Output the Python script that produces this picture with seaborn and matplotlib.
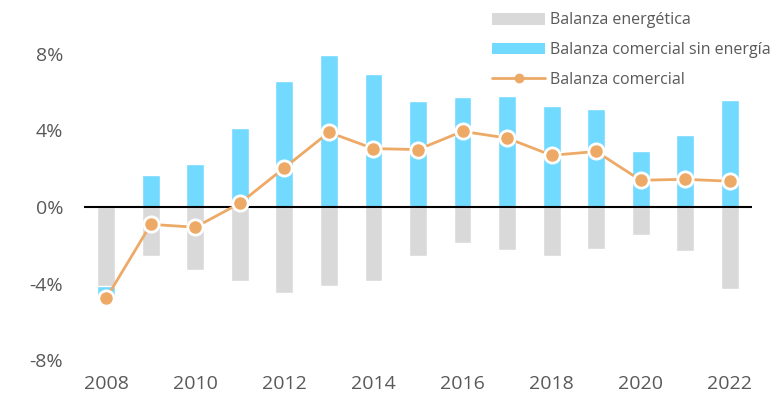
import numpy as np
import pandas as pd
import matplotlib
matplotlib.use("Agg")
import matplotlib.pyplot as plt
import seaborn as sns
from matplotlib.patches import Patch
from matplotlib.lines import Line2D

# datos (% del PIB)
years = list(range(2008, 2023))
energetica = [-4.1, -2.55, -3.3, -3.85, -4.5, -4.1, -3.85, -2.55, -1.85, -2.25, -2.55, -2.2, -1.45, -2.3, -4.25]
sin_energia = [-0.55, 1.67, 2.25, 4.1, 6.55, 7.95, 6.95, 5.55, 5.75, 5.8, 5.25, 5.1, 2.9, 3.75, 5.6]
comercial = [-4.75, -0.9, -1.05, 0.2, 2.05, 3.9, 3.05, 3.0, 3.95, 3.6, 2.7, 2.9, 1.4, 1.45, 1.35]

c_gris = "#D9D9D9"
c_azul = "#72D9FF"
c_naranja = "#EDA966"
c_texto = "#595959"

sns.set_style("white")
plt.rcParams["font.family"] = ["Open Sans", "DejaVu Sans"]

df = pd.DataFrame({"year": years, "energetica": energetica,
                   "sin_energia": sin_energia, "comercial": comercial})
# barra azul apilada bajo la gris cuando es negativa
df["azul_ext"] = np.where(df["sin_energia"] < 0,
                          df["sin_energia"] + df["energetica"], df["sin_energia"])

fig = plt.figure(figsize=(7.82, 4.01), dpi=100)
ax = fig.add_axes([84 / 782, 29 / 401, 668 / 782, 372 / 401])

sns.barplot(data=df, x="year", y="azul_ext", color=c_azul, width=0.4,
            saturation=1, ax=ax)
sns.barplot(data=df, x="year", y="energetica", color=c_gris, width=0.4,
            saturation=1, ax=ax)
ax.axhline(0, color="black", linewidth=1.5, zorder=3)
sns.pointplot(data=df, x="year", y="comercial", color=c_naranja,
              linewidth=2, markersize=11, markeredgecolor="white",
              markeredgewidth=2, ax=ax, zorder=5)

ax.set_xlim(-0.5, 14.5)
ax.set_ylim(-8.6, 10.8)
ax.set_yticks([-8, -4, 0, 4, 8])
ax.set_yticklabels([f"{v}%" for v in [-8, -4, 0, 4, 8]])
ax.set_xticks(range(0, 15, 2))
ax.set_xticklabels([str(y) for y in years[::2]])
ax.tick_params(axis="both", length=0, labelsize=14, labelcolor=c_texto)
ax.tick_params(axis="y", pad=15)
ax.tick_params(axis="x", pad=2)
ax.set_xlabel("")
ax.set_ylabel("")
sns.despine(ax=ax, left=True, bottom=True)

handles = [
    Patch(facecolor=c_gris, edgecolor="none"),
    Patch(facecolor=c_azul, edgecolor="none"),
    Line2D([0], [0], color=c_naranja, linewidth=2, marker="o", markersize=6),
]
labels = ["Balanza energética", "Balanza comercial sin energía", "Balanza comercial"]
leg = fig.legend(handles, labels, loc="upper left",
                 bbox_to_anchor=(486 / 782, 1 - 6 / 401), frameon=False,
                 fontsize=11.5, handlelength=3.3, handleheight=0.75,
                 handletextpad=0.3, labelspacing=0.85, borderaxespad=0)
for t in leg.get_texts():
    t.set_color(c_texto)

fig.savefig("out.png", dpi=100)
